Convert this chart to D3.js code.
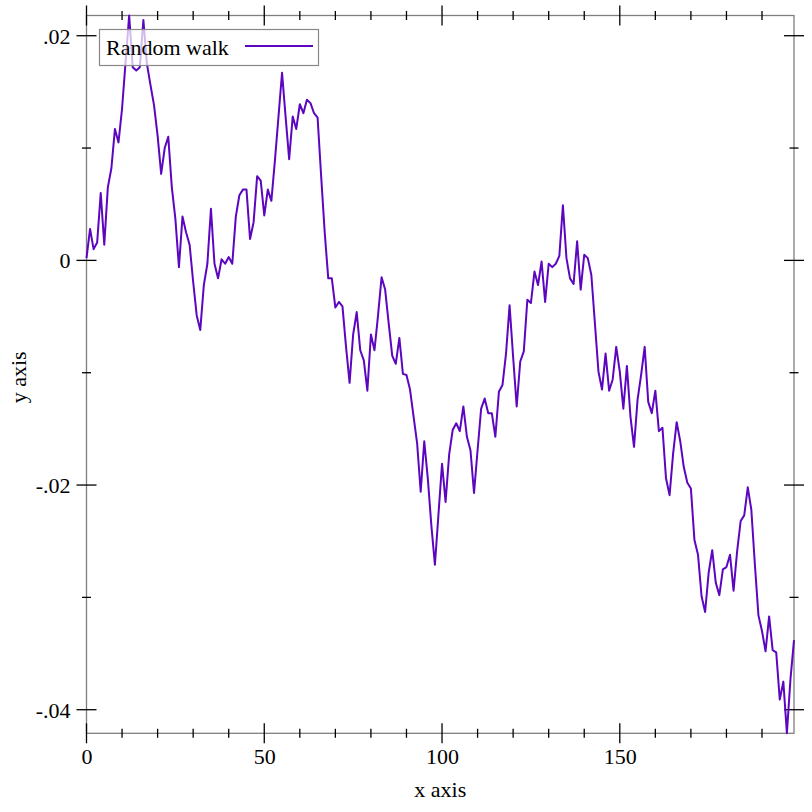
<!DOCTYPE html>
<html><head><meta charset="utf-8">
<script src="https://cdn.jsdelivr.net/npm/d3@7"></script>
<style>body{margin:0;background:#fff}svg{display:block}text{font-family:"Liberation Serif","DejaVu Serif",serif}</style>
</head><body>
<script>
const seriesName = "Random walk";
const xValues = d3.range(0, 200);
const yValues = [
0.0002,0.0028,0.0010,0.0016,0.0060,0.0014,0.0065,0.0082,0.0117,0.0105,
0.0135,0.0177,0.0218,0.0172,0.0169,0.0172,0.0214,0.0175,0.0156,0.0138,
0.0111,0.0077,0.0100,0.0110,0.0065,0.0037,-0.0006,0.0039,0.0025,0.0014,
-0.0019,-0.0049,-0.0062,-0.0022,-0.0003,0.0046,-0.0003,-0.0016,0.0001,-0.0003,
0.0003,-0.0003,0.0039,0.0058,0.0063,0.0063,0.0019,0.0034,0.0075,0.0071,
0.0040,0.0063,0.0053,0.0089,0.0128,0.0167,0.0128,0.0090,0.0128,0.0117,
0.0139,0.0131,0.0143,0.0140,0.0131,0.0127,0.0075,0.0025,-0.0016,-0.0016,
-0.0042,-0.0037,-0.0041,-0.0077,-0.0109,-0.0066,-0.0046,-0.0080,-0.0089,-0.0116,
-0.0066,-0.0080,-0.0049,-0.0015,-0.0026,-0.0056,-0.0085,-0.0092,-0.0069,-0.0101,
-0.0102,-0.0115,-0.0139,-0.0163,-0.0206,-0.0161,-0.0194,-0.0236,-0.0271,-0.0226,
-0.0181,-0.0215,-0.0173,-0.0151,-0.0145,-0.0152,-0.0130,-0.0157,-0.0169,-0.0207,
-0.0169,-0.0132,-0.0123,-0.0136,-0.0136,-0.0157,-0.0117,-0.0111,-0.0083,-0.0040,
-0.0086,-0.0130,-0.0090,-0.0081,-0.0035,-0.0038,-0.0010,-0.0022,-0.0001,-0.0037,
-0.0003,-0.0006,-0.0003,0.0004,0.0049,0.0002,-0.0016,-0.0021,0.0017,-0.0026,
0.0005,0.0002,-0.0013,-0.0056,-0.0099,-0.0115,-0.0083,-0.0116,-0.0106,-0.0077,
-0.0099,-0.0132,-0.0094,-0.0139,-0.0166,-0.0124,-0.0102,-0.0077,-0.0126,-0.0136,
-0.0116,-0.0152,-0.0149,-0.0194,-0.0209,-0.0172,-0.0144,-0.0161,-0.0184,-0.0198,
-0.0203,-0.0249,-0.0262,-0.0299,-0.0313,-0.0278,-0.0258,-0.0287,-0.0298,-0.0275,
-0.0273,-0.0262,-0.0294,-0.0259,-0.0232,-0.0227,-0.0202,-0.0222,-0.0271,-0.0316,
-0.0330,-0.0348,-0.0317,-0.0347,-0.0349,-0.0391,-0.0375,-0.0421,-0.0373,-0.0338
];
const xMajorTicks = [0, 50, 100, 150];
const xMinorTicks = [10,20,30,40,60,70,80,90,110,120,130,140,160,170,180,190];
const yMajorTicks = [0.02, 0, -0.02, -0.04];
const yMinorTicks = [0.01, -0.01, -0.03];
const xTitle = "x axis", yTitle = "y axis";

const W = 812, H = 812;
const m = {left: 86.5, right: 18, top: 15.5, bottom: 78.7};
const FS = 22;
const data = xValues.map((x, i) => ({x, y: yValues[i]}));

const svg = d3.select("body").append("svg").attr("width", W).attr("height", H);
const x = d3.scaleLinear().domain([0, 199]).range([m.left, W - m.right]);
const y = d3.scaleLinear().domain(d3.extent(yValues)).range([H - m.bottom, m.top]);

const fmtY = v => {
  if (v === 0) return "0";
  const s = Math.abs(v).toFixed(2).replace(/^0\./, ".");
  return (v < 0 ? "-" : "") + s;
};

// frame
svg.append("rect").attr("x", m.left).attr("y", m.top)
  .attr("width", W - m.right - m.left).attr("height", H - m.bottom - m.top)
  .attr("fill", "none").attr("stroke", "#7f7f7f").attr("stroke-width", 1.3);

function ticks(values, len, orient) {
  const g = svg.append("g");
  values.forEach(v => {
    if (orient === "x") {
      [H - m.bottom, m.top].forEach(y0 => g.append("line")
        .attr("x1", x(v)).attr("x2", x(v)).attr("y1", y0 - len).attr("y2", y0 + len)
        .attr("stroke", "#000").attr("stroke-width", 1.3));
    } else {
      [m.left, W - m.right].forEach(x0 => g.append("line")
        .attr("y1", y(v)).attr("y2", y(v)).attr("x1", x0 - len).attr("x2", x0 + len)
        .attr("stroke", "#000").attr("stroke-width", 1.3));
    }
  });
}
ticks(xMajorTicks, 10, "x"); ticks(xMinorTicks, 4.5, "x");
ticks(yMajorTicks, 10, "y"); ticks(yMinorTicks, 4.5, "y");

// tick labels via axes
const xAxis = svg.append("g").attr("transform", `translate(0,${H - m.bottom})`)
  .call(d3.axisBottom(x).tickValues(xMajorTicks).tickSize(0).tickFormat(d3.format("d")));
xAxis.select(".domain").remove();
xAxis.selectAll("text").attr("font-size", FS).attr("fill", "#000")
  .attr("font-family", "Liberation Serif").attr("y", 30.5).attr("dy", 0);

const yAxis = svg.append("g").attr("transform", `translate(${m.left},0)`)
  .call(d3.axisLeft(y).tickValues(yMajorTicks).tickSize(0).tickPadding(16).tickFormat(fmtY));
yAxis.select(".domain").remove();
yAxis.selectAll("text").attr("font-size", FS).attr("fill", "#000")
  .attr("font-family", "Liberation Serif").attr("dy", "0.34em");

// line
const line = d3.line().x(d => x(d.x)).y(d => y(d.y));
svg.append("path").datum(data).attr("d", line)
  .attr("fill", "none").attr("stroke", "#5c06c0").attr("stroke-width", 2).attr("stroke-linejoin", "round");

// axis titles
svg.append("text").attr("x", (m.left + W - m.right) / 2).attr("y", 797)
  .attr("text-anchor", "middle").attr("font-size", FS).text(xTitle);
svg.append("text").attr("transform", `translate(26,${(m.top + H - m.bottom) / 2 + 3}) rotate(-90)`)
  .attr("text-anchor", "middle").attr("font-size", FS).text(yTitle);

// legend
const lg = svg.append("g");
lg.append("rect").attr("x", 99.5).attr("y", 29.5).attr("width", 219).attr("height", 36)
  .attr("fill", "#fff").attr("fill-opacity", 0.72).attr("stroke", "#888").attr("stroke-width", 1.2);
lg.append("text").attr("x", 106).attr("y", 54.5).attr("font-size", FS).text(seriesName);
lg.append("line").attr("x1", 245).attr("x2", 313).attr("y1", 46).attr("y2", 46)
  .attr("stroke", "#5c06c0").attr("stroke-width", 2);
</script>
</body></html>
